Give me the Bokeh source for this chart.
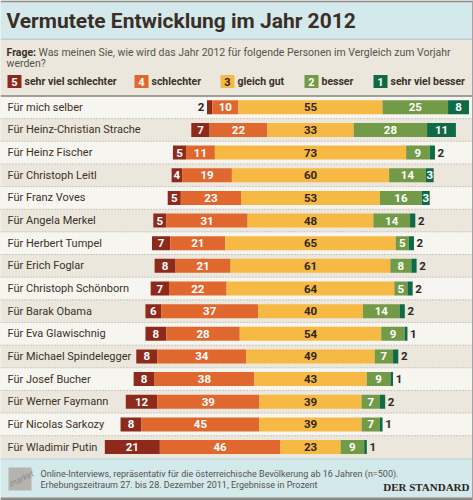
from bokeh.plotting import figure
from bokeh.models import ColumnDataSource, Range1d
from bokeh.core.properties import value
from bokeh.embed import file_html
from bokeh.resources import INLINE

# ---------------------------------------------------------------- data
title = "Vermutete Entwicklung im Jahr 2012"
question_lead = "Frage:"
question_line1 = "Was meinen Sie, wie wird das Jahr 2012 für folgende Personen im Vergleich zum Vorjahr"
question_line2 = "werden?"
footnote_1 = "Online-Interviews, repräsentativ für die österreichische Bevölkerung ab 16 Jahren (n=500)."
footnote_2 = "Erhebungszeitraum 27. bis 28. Dezember 2011, Ergebnisse in Prozent"
source_name = "DER STANDARD"
institute = "market"

legend_numbers = ["5", "4", "3", "2", "1"]
legend_labels = ["sehr viel schlechter", "schlechter", "gleich gut", "besser", "sehr viel besser"]

persons = [
    "Für mich selber", "Für Heinz-Christian Strache", "Für Heinz Fischer",
    "Für Christoph Leitl", "Für Franz Voves", "Für Angela Merkel",
    "Für Herbert Tumpel", "Für Erich Foglar", "Für Christoph Schönborn",
    "Für Barak Obama", "Für Eva Glawischnig", "Für Michael Spindelegger",
    "Für Josef Bucher", "Für Werner Faymann", "Für Nicolas Sarkozy",
    "Für Wladimir Putin",
]
sehr_viel_schlechter = [2, 7, 5, 4, 5, 5, 7, 8, 7, 6, 8, 8, 8, 12, 8, 21]
schlechter = [10, 22, 11, 19, 23, 31, 21, 21, 22, 37, 28, 34, 38, 39, 45, 46]
gleich_gut = [55, 33, 73, 60, 53, 48, 65, 61, 64, 40, 54, 49, 43, 39, 39, 23]
besser = [25, 28, 9, 14, 16, 14, 5, 8, 5, 14, 9, 7, 9, 7, 7, 9]
sehr_viel_besser = [8, 11, 2, 3, 3, 2, 2, 2, 2, 2, 1, 2, 1, 2, 1, 1]

# ---------------------------------------------------------------- styling
COLORS = ["#8e2a1c", "#e0682f", "#f6b944", "#729a47", "#0f6a48"]
NUM_COLORS = ["white", "white", "#2e261f", "white", "white"]
TEXT_DARK = "#3a3129"
TEXT_GREY = "#57524c"
BAND_BLUE = "#d4e9eb"
BEIGE = "#ebe7dc"
ROW_LIGHT = "#f7f5ef"
SANS = "Roboto"
SERIF = "Liberation Serif"

W, H = 473, 500
CX, K = 310.0, 2.62          # centre of the "gleich gut" block, pixels per percent
Y0, R = 106.8, 22.65         # first row centre, row pitch (pixels)


def X(px):
    return (px - CX) / K


def Y(py):
    return (py - Y0) / R


p = figure(width=W, height=H, output_backend="svg", toolbar_location=None,
           x_axis_type=None, y_axis_type=None, min_border=0,
           x_range=Range1d(X(0), X(W)), y_range=Range1d(Y(H), Y(0)))
p.outline_line_color = None
p.grid.visible = False
p.background_fill_color = BEIGE
p.border_fill_color = BEIGE


def band(top, bottom, color, left=0, right=W):
    p.quad(left=X(left), right=X(right), top=Y(top), bottom=Y(bottom),
           fill_color=color, line_color=None)


def txt(x, y, s, size, color=TEXT_DARK, style="normal", align="left",
        font=SANS, angle=0.0):
    p.text(x=[X(x)], y=[Y(y)], text=[s], text_font=value(font),
           text_font_size=value(f"{size}px"), text_font_style=style,
           text_color=color, text_align=align, text_baseline="middle",
           angle=angle)


# ---------------------------------------------------------------- header
band(0, 2, "#8b8b8b")
band(2, 38, BAND_BLUE)
band(38, 39.5, "#b8d0d3")
band(39.5, 95.5, BEIGE)
txt(6, 20, title, 21, color="#3a2e26", style="bold")
txt(6, 52, question_lead, 10.5, style="bold")
txt(38, 52, question_line1, 10.5, color=TEXT_GREY)
txt(6, 63, question_line2, 10.5, color=TEXT_GREY)

legend_box_x = [7, 134, 220, 304, 373]
for bx, num, lab, col, ncol in zip(legend_box_x, legend_numbers, legend_labels,
                                   COLORS, NUM_COLORS):
    band(74.5, 87.5, col, left=bx, right=bx + 14)
    txt(bx + 7, 81.3, num, 11, color=ncol, style="bold", align="center")
    txt(bx + 17, 81.3, lab, 10.5, style="bold")

# ---------------------------------------------------------------- rows
n = len(persons)
rows = list(range(n))
p.quad(left=X(0), right=X(W),
       top=[i - 0.5 for i in rows], bottom=[i + 0.5 for i in rows],
       fill_color=[ROW_LIGHT if i % 2 == 0 else BEIGE for i in rows],
       line_color=None)
band(94.5, 96.5, "#a19d97")
p.segment(x0=X(0), x1=X(W), y0=[i + 0.5 for i in rows[:-1]],
          y1=[i + 0.5 for i in rows[:-1]], line_color="#a9a49c",
          line_width=1, line_dash="1 2")

p.text(x=[X(7)] * n, y=rows, text=persons, text_font=value(SANS),
       text_font_size=value("11px"), text_color=TEXT_DARK,
       text_align="left", text_baseline="middle")

series = [sehr_viel_schlechter, schlechter, gleich_gut, besser, sehr_viel_besser]
bar_h = 14 / R
lab_x, lab_y, lab_t, lab_c, lab_a = [], [], [], [], []
for k, vals in enumerate(series):
    lefts, rights = [], []
    for i in rows:
        start = -(series[0][i] + series[1][i] + series[2][i] / 2)
        left = start + sum(series[j][i] for j in range(k))
        right = left + vals[i]
        lefts.append(left)
        rights.append(right)
        v = vals[i]
        if k == 0 and v <= 2:
            lab_x.append(left - 1.0); lab_a.append("right"); lab_c.append("#2e261f")
        elif k == 4 and v <= 2:
            lab_x.append(right + 1.0); lab_a.append("left"); lab_c.append("#2e261f")
        else:
            lab_x.append((left + right) / 2); lab_a.append("center"); lab_c.append(NUM_COLORS[k])
        lab_y.append(i)
        lab_t.append(str(v))
    p.hbar(y=rows, left=lefts, right=rights, height=bar_h,
           fill_color=COLORS[k], line_color=None)

labels = ColumnDataSource(dict(x=lab_x, y=lab_y, t=lab_t, c=lab_c, a=lab_a))
p.text(x="x", y="y", text="t", text_color="c", text_align="a", source=labels,
       text_font=value(SANS), text_font_size=value("11.5px"),
       text_font_style="bold", text_baseline="middle")

# ---------------------------------------------------------------- footer
band(457.9, 497, BAND_BLUE)
band(457.9, 458.9, "#bdd3d6")
band(497, 500, "#8b8b8b")
band(0, 500, "#a3a3a3", left=471.5, right=473)

band(467, 490, "#b5b3af", left=8, right=31)
txt(21, 478, institute, 8.5, color="#8f8c88", style="italic", align="center",
    angle=0.45)
txt(40, 473, footnote_1, 9, color=TEXT_GREY)
txt(40, 484, footnote_2, 9, color=TEXT_GREY)
txt(469, 486, source_name, 11, color="#2b2622", style="bold", align="right",
    font=SERIF)

open("out.html", "w").write(file_html(p, INLINE))
